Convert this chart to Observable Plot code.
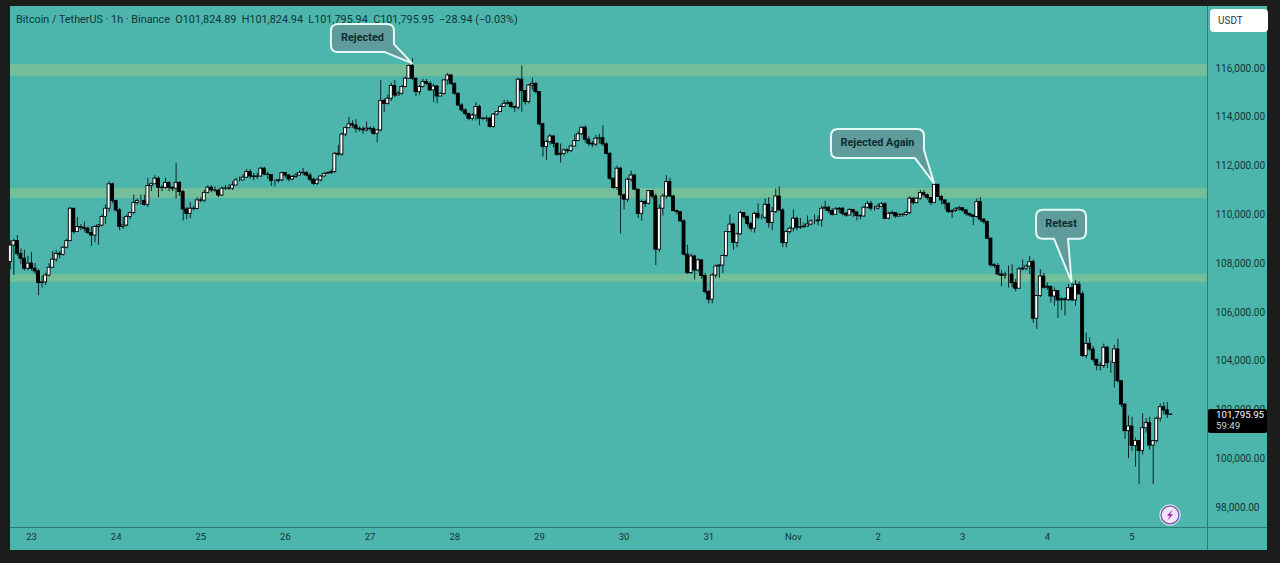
<!DOCTYPE html>
<html>
<head>
<meta charset="utf-8">
<script src="https://cdn.jsdelivr.net/npm/d3@7"></script>
<script src="https://cdn.jsdelivr.net/npm/@observablehq/plot@0.6"></script>
<style>
html,body{margin:0;padding:0;background:#1c1c1c;overflow:hidden}
#panel{position:absolute;left:10px;top:6px;width:1257px;height:544px;background:#4db6ac}
#lineV{position:absolute;left:1207px;top:6px;width:1px;height:544px;background:#2d7a76}
#lineH{position:absolute;left:10px;top:527px;width:1257px;height:1px;background:#2d7a76}
#chart{position:absolute;left:0;top:0}
svg{background:transparent!important;display:block}
</style>
</head>
<body>
<div id="panel"></div><div id="lineV"></div><div id="lineH"></div>
<div id="chart"></div>
<script>
// Hourly candles in thousands of USDT. Index 0 = 23 Oct 00:00, first candle is index -6.
const firstIndex = -6;
const firstOpen = 108.06;
const closes = [
108.74,108.92,108.40,108.20,107.79,108.00,
107.79,107.68,107.20,107.23,107.51,107.83,108.16,108.40,108.36,108.65,
108.92,110.25,109.29,109.50,109.47,109.43,109.25,109.15,109.50,109.56,
109.91,110.25,111.25,110.56,110.18,109.50,109.56,109.91,110.07,110.48,
110.56,110.56,110.41,111.18,111.25,111.48,111.11,111.10,111.31,111.11,
111.07,111.31,110.93,110.22,110.04,110.25,110.24,110.59,110.58,110.90,
111.11,111.00,110.99,110.79,111.07,111.08,111.07,111.20,111.41,111.41,
111.52,111.75,111.57,111.55,111.57,111.89,111.65,111.63,111.38,111.38,
111.41,111.71,111.61,111.45,111.55,111.61,111.71,111.72,111.61,111.44,
111.27,111.41,111.57,111.68,111.71,111.75,112.50,112.47,113.29,113.55,
113.71,113.66,113.53,113.50,113.46,113.53,113.51,113.32,113.46,114.66,
114.55,114.76,115.28,114.89,114.96,115.24,115.58,116.10,115.58,115.03,
115.24,115.44,115.37,115.10,115.26,114.85,114.96,115.51,115.71,115.37,
114.96,114.48,114.28,114.14,113.94,114.07,114.42,113.94,113.93,113.94,
113.60,114.11,114.21,114.42,114.55,114.58,114.42,114.39,115.54,115.07,
114.62,115.30,115.37,115.03,113.71,112.78,112.98,113.21,112.91,112.46,
112.50,112.64,112.61,112.80,113.02,113.30,113.57,113.08,112.91,112.88,
113.12,113.14,112.89,112.50,111.48,111.10,111.89,110.80,110.62,111.44,
111.61,111.03,110.04,110.52,110.45,110.97,110.75,108.57,110.25,110.75,
111.34,110.75,110.15,110.11,109.73,108.37,107.61,108.29,107.72,108.13,
107.49,106.83,106.52,107.51,107.88,107.92,108.31,109.29,109.60,108.85,
109.20,110.07,109.90,109.63,109.43,110.04,109.88,109.88,110.41,109.66,
110.11,110.75,110.18,108.84,109.29,109.43,109.84,109.47,109.49,109.52,
109.60,109.73,109.73,109.77,110.25,110.29,110.15,110.00,110.22,110.25,
110.04,109.97,110.20,110.10,109.95,109.93,110.29,110.45,110.25,110.25,
110.33,110.43,109.84,110.04,110.07,109.93,110.00,109.99,110.07,110.66,
110.48,110.66,110.89,110.80,110.69,110.49,111.23,110.73,110.59,110.45,
110.11,110.15,110.22,110.27,110.18,110.04,109.97,109.91,110.52,109.80,
109.70,109.02,107.93,107.90,107.55,107.50,107.55,107.55,107.20,106.97,
107.76,107.79,107.88,108.06,105.74,106.67,107.47,107.01,107.05,106.65,
106.87,106.49,106.53,106.50,106.99,106.49,107.13,106.74,104.21,104.71,
104.48,104.06,103.82,103.80,104.55,103.92,103.92,104.48,103.18,102.22,
101.13,101.32,100.52,100.72,100.31,101.25,101.46,100.54,100.72,101.64,
102.11,101.98,101.81,101.80];
const highs = [
108.95,109.00,109.15,108.60,108.55,108.30,
108.45,108.00,107.75,107.50,107.60,108.00,108.50,108.55,108.50,108.70,
109.00,110.30,110.25,109.90,109.60,109.70,109.50,109.50,109.55,109.60,
110.00,110.40,111.35,111.30,110.60,110.25,109.90,110.00,110.10,110.80,
110.65,110.80,110.80,111.50,111.30,111.60,111.55,111.20,111.50,111.35,
111.15,112.10,111.35,111.00,110.30,110.50,110.35,110.70,110.70,111.00,
111.20,111.20,111.15,111.05,111.15,111.20,111.25,111.35,111.50,111.55,
111.65,111.85,111.85,111.70,111.70,111.95,111.95,111.75,111.60,111.45,
111.45,111.75,111.70,111.65,111.60,111.70,111.80,111.90,111.75,111.70,
111.50,111.50,111.60,111.72,111.75,111.85,112.55,112.85,113.35,113.60,
114.00,113.85,113.90,113.60,113.60,113.80,113.60,113.60,113.50,115.50,
114.75,114.90,115.40,115.50,115.05,115.30,115.65,116.15,116.40,115.60,
115.30,115.55,115.55,115.45,115.35,115.30,115.00,115.55,115.80,115.75,
115.40,115.00,114.55,114.35,114.15,114.15,114.60,114.50,114.00,114.05,
114.00,114.15,114.25,114.50,114.70,114.70,114.65,114.45,115.60,116.10,
115.10,115.35,115.60,115.40,115.05,113.75,113.05,113.30,113.25,112.95,
112.90,112.70,112.70,112.85,113.30,113.40,113.60,113.65,113.20,113.00,
113.25,113.30,113.65,112.95,112.55,111.50,112.00,111.95,110.85,111.50,
111.80,111.65,111.05,110.60,110.60,111.00,111.00,110.85,110.40,110.85,
111.60,111.50,110.80,110.20,110.10,109.80,108.75,108.40,108.35,108.20,
108.15,107.60,106.90,107.60,107.95,107.95,108.35,109.30,110.00,109.65,
109.25,110.15,110.10,109.95,109.70,110.10,110.45,110.00,110.65,110.70,
110.30,111.05,111.15,110.25,109.35,109.50,110.20,109.90,109.85,109.65,
109.95,109.80,110.00,109.95,110.35,110.55,110.35,110.25,110.30,110.30,
110.30,110.10,110.25,110.20,110.10,110.00,110.35,110.55,110.55,110.35,
110.45,110.50,110.50,110.10,110.15,110.10,110.05,110.05,110.15,110.75,
110.70,110.70,111.00,111.00,110.85,110.70,111.30,111.20,110.80,110.60,
110.50,110.20,110.30,110.35,110.30,110.20,110.05,110.00,110.65,110.70,
109.85,109.75,109.05,108.00,108.00,107.70,107.65,107.90,107.95,107.35,
107.85,108.15,107.95,108.30,108.15,106.70,107.75,107.60,107.20,106.85,
107.00,106.55,106.60,106.60,107.15,107.25,107.30,107.25,106.85,105.15,
104.95,104.60,104.05,103.95,104.70,104.60,104.00,104.65,104.90,103.20,
102.25,101.75,101.70,100.85,100.70,101.85,101.65,101.70,100.75,101.70,
102.25,102.30,102.30,101.83];
const lows = [
107.75,107.51,108.30,107.95,107.70,107.70,
107.70,107.55,106.68,107.00,107.10,107.45,107.80,108.05,108.20,108.30,
108.60,108.90,109.20,109.30,109.35,109.30,109.20,108.70,108.85,108.75,
109.50,109.60,110.10,110.45,110.10,109.35,109.40,109.50,109.80,110.00,
110.40,110.40,110.35,110.30,110.95,111.30,110.70,110.95,111.05,110.95,
110.95,110.65,110.75,109.75,109.80,109.84,110.15,110.20,110.50,110.50,
110.85,110.90,110.90,110.70,110.75,111.00,111.00,111.00,111.20,111.35,
111.40,111.50,111.45,111.40,111.45,111.55,111.60,111.45,111.16,111.15,
111.30,111.35,111.50,111.35,111.40,111.50,111.60,111.60,111.55,111.35,
111.20,111.20,111.35,111.55,111.65,111.65,111.70,112.40,112.40,113.20,
113.60,113.55,113.35,113.40,113.30,113.40,113.40,113.25,112.95,113.40,
114.20,114.50,114.65,114.80,114.90,114.90,115.20,115.55,115.50,114.85,
114.90,115.20,115.30,115.05,114.60,114.55,114.85,114.90,115.30,115.30,
114.90,114.45,114.20,114.05,113.85,113.85,113.85,113.65,113.85,113.80,
113.55,113.55,114.05,114.20,114.40,114.50,114.35,114.20,114.30,114.20,
114.50,114.55,115.10,114.95,113.65,112.37,112.23,112.85,112.75,112.40,
112.12,112.40,112.50,112.55,112.90,113.00,113.25,112.95,112.80,112.75,
112.80,112.90,112.80,112.45,111.40,111.05,111.00,109.22,110.20,110.50,
111.35,111.00,109.85,109.73,110.30,110.40,110.65,107.92,108.45,109.95,
110.65,110.70,110.15,110.00,109.70,108.30,107.55,107.55,107.33,107.65,
107.35,106.75,106.35,106.35,107.40,107.40,107.60,108.25,109.25,108.55,
108.65,109.15,109.80,109.50,109.30,109.25,109.80,109.80,109.80,109.45,
109.35,110.05,110.15,108.65,108.65,109.20,109.30,109.35,109.40,109.45,
109.50,109.55,109.60,109.55,109.50,110.15,110.05,109.95,110.00,110.05,
109.95,109.90,110.00,109.90,109.75,109.80,109.90,110.25,110.15,110.15,
110.20,110.30,109.80,109.80,110.00,109.85,109.90,109.90,109.95,110.00,
110.40,110.45,110.60,110.70,110.60,110.38,110.45,110.70,110.40,110.20,
110.05,109.85,110.10,110.15,110.10,109.95,109.90,109.55,109.85,109.70,
109.60,109.00,107.85,107.80,107.50,107.05,107.35,107.00,107.00,106.85,
106.95,107.70,107.70,107.55,105.55,105.30,106.60,106.95,106.90,106.38,
106.25,105.75,106.08,105.85,106.45,106.45,106.25,106.70,104.15,104.10,
104.40,103.95,103.60,103.60,103.70,103.70,103.50,102.90,103.10,102.10,
100.80,100.00,100.30,99.65,98.93,100.15,101.05,100.35,98.95,100.65,
101.50,101.80,101.65,101.79];

const dayLabels = ["23","24","25","26","27","28","29","30","31","Nov","2","3","4","5"];
const priceTicks = [98000,100000,102000,104000,106000,108000,110000,112000,114000,116000];
const zoneLows = [115670,110670,107230];
const zoneHighs = [116160,111080,107550];
const calloutLabels = ["Rejected","Rejected Again","Retest"];
const calloutCandles = [108,256,295];
const calloutPrices = [116200,111280,107230];
const headerText = "Bitcoin / TetherUS \u00b7 1h \u00b7 Binance  O101,824.89  H101,824.94  L101,795.94  C101,795.95  \u221228.94 (\u22120.03%)";
const lastPrice = 101795.95;
const countdown = "59:49";

const candles = closes.map((c, k) => {
  const open = k === 0 ? firstOpen : closes[k - 1];
  return {
    i: firstIndex + k,
    open: open * 1000,
    close: c * 1000,
    high: Math.max(highs[k], open, c) * 1000,
    low: Math.min(lows[k], open, c) * 1000
  };
});
const dayTicks = dayLabels.map((_, k) => k * 24);
const zones = zoneLows.map((lo, k) => ({lo, hi: zoneHighs[k]}));
const font = "Roboto, sans-serif";
const inkColor = "#0f3538";

// pixel shapes of the speech bubbles, relative to the tip
const bubbleShapes = [
  {l:-81,r:-18,t:-39,b:-11,tail:[[-18,-19],[0,0],[-27,-11]],cut:true},
  {l:-103,r:-10,t:-54,b:-25,tail:[[-10,-33],[0,0],[-19,-25]],cut:true},
  {l:-35.5,r:14.5,t:-72,b:-43,tail:[[-3.5,-43],[0,0],[-17.5,-43]],cut:false}
];

function chrome(index, scales) {
  const g = d3.create("svg:g").attr("text-anchor", "start");
  const R = 7;
  calloutLabels.forEach((label, k) => {
    const X = scales.x(calloutCandles[k]), Y = scales.y(calloutPrices[k]);
    const s = bubbleShapes[k];
    const l=X+s.l, r=X+s.r, t=Y+s.t, b=Y+s.b;
    const tail = s.tail.map(p => `L${X+p[0]},${Y+p[1]}`).join("");
    const d = `M${l+R},${t}L${r-R},${t}Q${r},${t} ${r},${t+R}` +
      (s.cut ? tail : `L${r},${b-R}Q${r},${b} ${r-R},${b}` + tail) +
      `L${l+R},${b}Q${l},${b} ${l},${b-R}L${l},${t+R}Q${l},${t} ${l+R},${t}Z`;
    g.append("path").attr("d", d).attr("fill", "#5f9c9b").attr("stroke", "#e3faf7").attr("stroke-width", 2).attr("stroke-linejoin","round");
    g.append("text").attr("x", (l+r)/2).attr("y", (t+b)/2 - 1).attr("dy","0.35em").attr("text-anchor","middle")
      .attr("font-family", font).attr("font-weight", 700).attr("font-size", 10.9).attr("fill", "#0e2c30").text(label);
  });
  // header line
  g.append("text").attr("x",16).attr("y",19).attr("dy","0.35em").style("white-space","pre")
    .attr("font-family",font).attr("font-size",10.82).attr("fill",inkColor).text(headerText);
  // last price tag
  const py = scales.y(lastPrice);
  g.append("rect").attr("x",1208).attr("y",py-5.5).attr("width",59).attr("height",24).attr("rx",2).attr("fill","#000");
  g.append("text").attr("x",1216).attr("y",py).attr("dy","0.35em").attr("font-family",font).attr("font-size",9.7).attr("fill","#fff").text(d3.format(",.2f")(lastPrice));
  g.append("text").attr("x",1216).attr("y",py+11.5).attr("dy","0.35em").attr("font-family",font).attr("font-size",9.7).attr("fill","#d6d6d6").text(countdown);
  // currency button
  g.append("rect").attr("x",1210).attr("y",9).attr("width",58).attr("height",23).attr("rx",4).attr("fill","#fff");
  g.append("text").attr("x",1218).attr("y",20.5).attr("dy","0.35em").attr("font-family",font).attr("font-size",10).attr("fill","#333").text("USDT");
  // lightning badge
  g.append("circle").attr("cx",1170).attr("cy",515).attr("r",9).attr("fill","#efe6f7").attr("stroke","#8e4bb5").attr("stroke-width",1.4);
  g.append("circle").attr("cx",1170).attr("cy",515).attr("r",10.2).attr("fill","none").attr("stroke","#e9f5f3").attr("stroke-width",1);
  g.append("path").attr("d","M1172.5,509.5L1167,515.8L1169.8,515.8L1167.5,520.5L1173,514.2L1170.2,514.2Z").attr("fill","#9b27af");
  return g.node();
}

const plot = Plot.plot({
  width: 1280, height: 563,
  marginLeft: 10, marginRight: 73, marginTop: 6, marginBottom: 36,
  style: {background: "transparent", fontFamily: font},
  x: {type: "linear", domain: [-5.95, 333.4], axis: null},
  y: {type: "linear", domain: [97180, 118540], axis: null},
  marks: [
    Plot.rectY(zones, {x1: -5.95, x2: 333.4, y1: "lo", y2: "hi", fill: "#74bf99"}),
    Plot.ruleX(candles, {x: "i", y1: "low", y2: "high", stroke: "#0b2426", strokeWidth: 1}),
    Plot.rect(candles, {x1: d => d.i - 0.42, x2: d => d.i + 0.42, y1: "open", y2: "close",
      fill: d => d.close >= d.open ? "#ffffff" : "#000000", stroke: "#000", strokeWidth: 0.9}),
    Plot.axisY(priceTicks, {anchor: "right", tickSize: 0, tickPadding: 8, textAnchor: "start",
      tickFormat: d3.format(",.2f"), fontSize: 10, fill: inkColor, label: null}),
    Plot.axisX(dayTicks, {anchor: "bottom", tickSize: 0, tickPadding: 6,
      tickFormat: v => dayLabels[v / 24], fontSize: 9.5, fill: inkColor, label: null}),
    chrome
  ]
});
document.getElementById("chart").append(plot);
</script>
</body>
</html>
